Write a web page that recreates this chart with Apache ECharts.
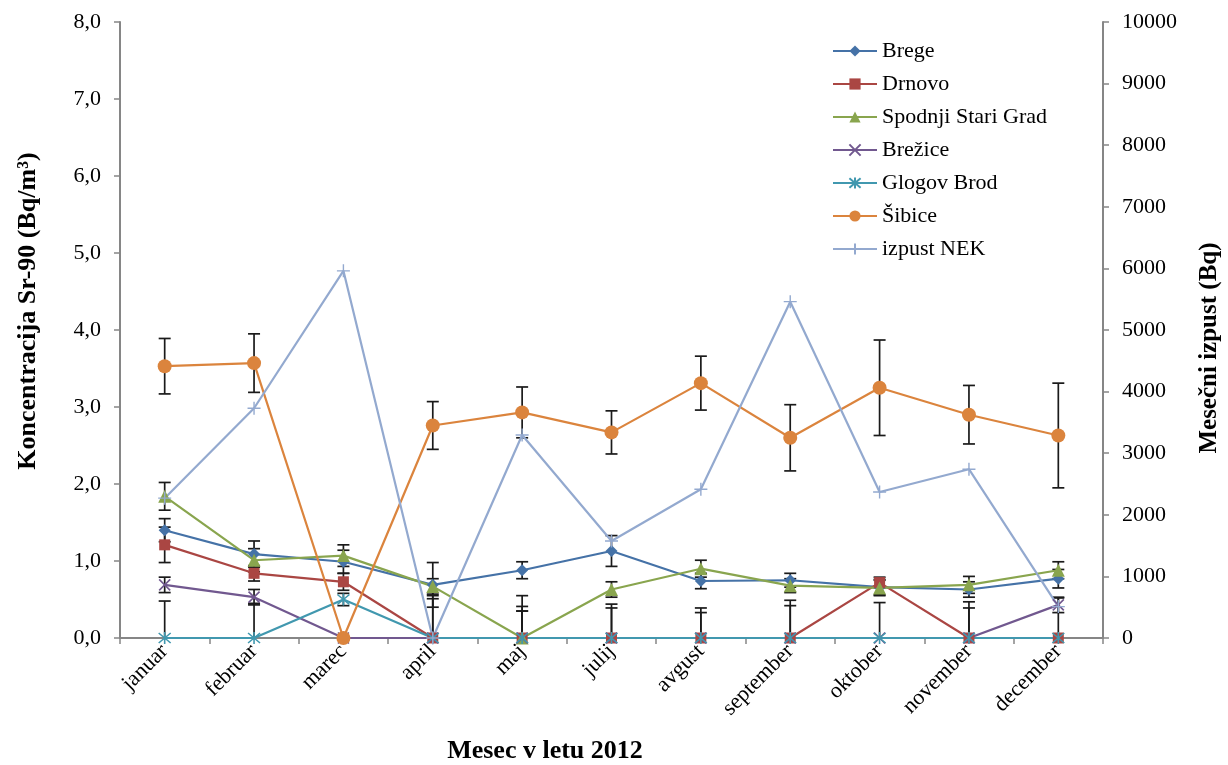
<!DOCTYPE html>
<html>
<head>
<meta charset="utf-8">
<title>Sr-90 2012</title>
<script src="https://cdn.jsdelivr.net/npm/echarts@6/dist/echarts.min.js"></script>
<style>
  html, body { margin: 0; padding: 0; background: #ffffff; }
  #chart { width: 1228px; height: 765px; }
</style>
</head>
<body>
<div id="chart"></div>
<script>
// Months of 2012 (June has no sample)
const months = ['januar', 'februar', 'marec', 'april', 'maj', 'julij', 'avgust', 'september', 'oktober', 'november', 'december'];

// Sr-90 concentration (Bq/m3) per sampling site, with measurement uncertainty
const brege      = [1.40, 1.09, 0.99, 0.69, 0.88, 1.13, 0.74, 0.75, 0.66, 0.63, 0.77];
const bregeErr   = [0.15, 0.17, 0.15, 0.29, 0.11, 0.20, 0.10, 0.09, 0.10, 0.10, 0.12];
const drnovo     = [1.21, 0.84, 0.73, 0, 0, 0, 0, 0, 0.72, 0, 0];
const drnovoErr  = [0.23, 0.10, 0.11, 0.55, 0.41, 0.44, 0.39, 0.49, 0.07, 0.47, 0.52];
const spodnji    = [1.84, 1.01, 1.07, 0.67, 0, 0.63, 0.90, 0.68, 0.65, 0.69, 0.88];
const spodnjiErr = [0.18, 0.15, 0.14, 0.10, 0.35, 0.10, 0.11, 0.09, 0.10, 0.11, 0.11];
const brezice    = [0.69, 0.53, 0, 0, 0, 0, 0, 0, 0, 0, 0.43];
const breziceErr = [0.10, 0.10, 0, 0.51, 0.55, 0.39, 0.33, 0.42, 0.46, 0.39, 0.10];
const glogov     = [0, 0, 0.50, 0, 0, 0, 0, 0, 0, 0, 0];
const glogovErr  = [0.48, 0.45, 0.08, 0, 0.35, 0, 0, 0, 0, 0, 0];
const sibice     = [3.53, 3.57, 0, 2.76, 2.93, 2.67, 3.31, 2.60, 3.25, 2.90, 2.63];
const sibiceErr  = [0.36, 0.38, 0, 0.31, 0.33, 0.28, 0.35, 0.43, 0.62, 0.38, 0.68];

// Monthly release from NEK (Bq), right axis
const izpustNek  = [2270, 3730, 5960, 0, 3295, 1575, 2415, 5460, 2370, 2740, 510];

// Axis tick settings
const leftMin = 0, leftMax = 8, leftStep = 1;
const rightMin = 0, rightMax = 10000, rightStep = 1000;

const FONT = 'Liberation Serif';
const AXIS_GREY = '#868686';

const stations = [
  { name: 'Brege', data: brege, err: bregeErr, color: '#4572A7', symbol: 'diamond', size: 12 },
  { name: 'Drnovo', data: drnovo, err: drnovoErr, color: '#AA4643', symbol: 'rect', size: 11 },
  { name: 'Spodnji Stari Grad', data: spodnji, err: spodnjiErr, color: '#89A54E', symbol: 'triangle', size: 13 },
  { name: 'Brežice', data: brezice, err: breziceErr, color: '#71588F', symbol: 'path://M0,0L10,10M10,0L0,10', size: 11, stroke: true },
  { name: 'Glogov Brod', data: glogov, err: glogovErr, color: '#4198AF', symbol: 'path://M0,0L10,10M10,0L0,10M5,-1L5,11', size: 12, stroke: true },
  { name: 'Šibice', data: sibice, err: sibiceErr, color: '#DB843D', symbol: 'circle', size: 14 }
];

// Vertical error bar with caps, clipped to the axis floor
function errorBarRenderer(values, errors) {
  return function (params, api) {
    const i = api.value(0);
    const e = errors[i];
    if (!e) return null;
    const v = values[i];
    const top = api.coord([i, v + e]);
    const bot = api.coord([i, Math.max(leftMin, v - e)]);
    const cap = 6;
    const style = { stroke: '#1a1a1a', lineWidth: 1.7 };
    const children = [
      { type: 'line', shape: { x1: top[0], y1: top[1], x2: bot[0], y2: bot[1] }, style: style },
      { type: 'line', shape: { x1: top[0] - cap, y1: top[1], x2: top[0] + cap, y2: top[1] }, style: style }
    ];
    if (v - e > leftMin) {
      children.push({ type: 'line', shape: { x1: bot[0] - cap, y1: bot[1], x2: bot[0] + cap, y2: bot[1] }, style: style });
    }
    return { type: 'group', children: children };
  };
}

const series = [];

stations.forEach(function (s) {
  series.push({
    type: 'custom',
    xAxisIndex: 0,
    yAxisIndex: 0,
    z: 1,
    silent: true,
    data: s.data.map(function (v, i) { return [i, v]; }),
    encode: { x: 0, y: 1 },
    renderItem: errorBarRenderer(s.data, s.err)
  });
});

stations.forEach(function (s) {
  series.push({
    name: s.name,
    type: 'line',
    yAxisIndex: 0,
    z: 3,
    data: s.data,
    symbol: s.symbol,
    symbolSize: s.size,
    showAllSymbol: true,
    lineStyle: { color: s.color, width: 2.2 },
    itemStyle: s.stroke
      ? { color: s.color, borderColor: s.color, borderWidth: 1.6 }
      : { color: s.color, borderWidth: 0 }
  });
});

series.push({
  name: 'izpust NEK',
  type: 'line',
  yAxisIndex: 1,
  z: 3,
  data: izpustNek,
  symbol: 'path://M5,0L5,10M0,5L10,5',
  symbolSize: 13,
  showAllSymbol: true,
  lineStyle: { color: '#93A9CF', width: 2.2 },
  itemStyle: { color: '#93A9CF', borderColor: '#93A9CF', borderWidth: 1.4 }
});

const chart = echarts.init(document.getElementById('chart'), null, { renderer: 'canvas' });

chart.setOption({
  animation: false,
  backgroundColor: '#ffffff',
  textStyle: { fontFamily: FONT, color: '#000' },
  grid: { left: 120, right: 125, top: 22, bottom: 127, containLabel: false },
  legend: {
    orient: 'vertical',
    left: 827,
    top: 35,
    itemWidth: 44,
    itemHeight: 14,
    itemGap: 11,
    data: stations.map(function (s) { return s.name; }).concat(['izpust NEK']),
    textStyle: { fontFamily: FONT, fontSize: 22, color: '#000', lineHeight: 20 },
    selectedMode: false
  },
  xAxis: {
    type: 'category',
    data: months,
    boundaryGap: true,
    axisLine: { show: true, lineStyle: { color: AXIS_GREY, width: 2 } },
    axisTick: { show: true, interval: 0, length: 6, lineStyle: { color: AXIS_GREY, width: 1.5 } },
    axisLabel: { interval: 0, rotate: 45, margin: 10, fontFamily: FONT, fontSize: 22, color: '#000' },
    splitLine: { show: false }
  },
  yAxis: [
    {
      type: 'value',
      position: 'left',
      min: leftMin,
      max: leftMax,
      interval: leftStep,
      axisLine: { show: true, lineStyle: { color: AXIS_GREY, width: 2 } },
      axisTick: { show: true, length: 6, lineStyle: { color: AXIS_GREY, width: 1.5 } },
      axisLabel: {
        margin: 19,
        fontFamily: FONT,
        fontSize: 22,
        color: '#000',
        formatter: function (v) { return v.toFixed(1).replace('.', ','); }
      },
      splitLine: { show: false }
    },
    {
      type: 'value',
      position: 'right',
      min: rightMin,
      max: rightMax,
      interval: rightStep,
      axisLine: { show: true, lineStyle: { color: AXIS_GREY, width: 2 } },
      axisTick: { show: true, length: 6, lineStyle: { color: AXIS_GREY, width: 1.5 } },
      axisLabel: {
        margin: 19,
        fontFamily: FONT,
        fontSize: 22,
        color: '#000',
        formatter: function (v) { return String(v); }
      },
      splitLine: { show: false }
    }
  ],
  graphic: [
    {
      type: 'text',
      x: 28, y: 311,
      rotation: Math.PI / 2,
      style: {
        text: 'Koncentracija Sr-90 (Bq/m³)',
        font: 'bold 26px "Liberation Serif"',
        fill: '#000',
        align: 'center',
        verticalAlign: 'middle'
      }
    },
    {
      type: 'text',
      x: 1210, y: 348,
      rotation: Math.PI / 2,
      style: {
        text: 'Mesečni izpust (Bq)',
        font: 'bold 25px "Liberation Serif"',
        fill: '#000',
        align: 'center',
        verticalAlign: 'middle'
      }
    },
    {
      type: 'text',
      x: 545, y: 751,
      style: {
        text: 'Mesec v letu 2012',
        font: 'bold 26px "Liberation Serif"',
        fill: '#000',
        align: 'center',
        verticalAlign: 'middle'
      }
    }
  ],
  series: series
});
</script>
</body>
</html>
